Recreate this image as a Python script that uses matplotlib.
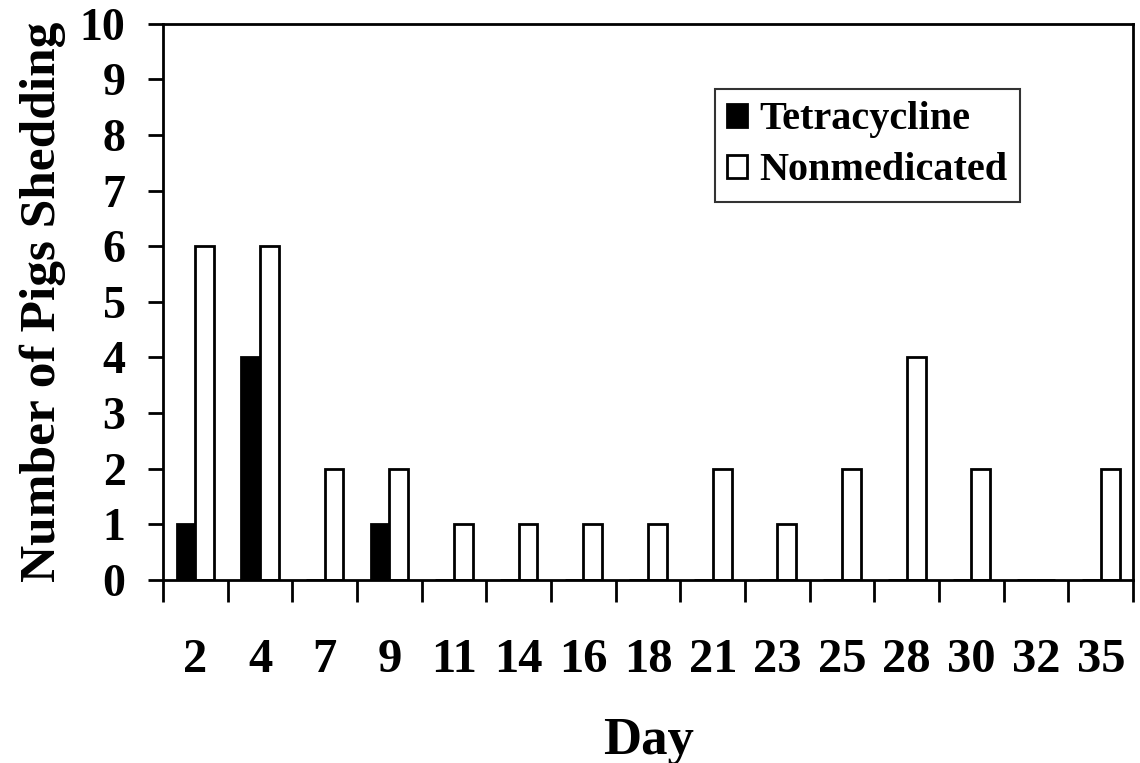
import matplotlib
matplotlib.use("Agg")
import matplotlib.pyplot as plt
import numpy as np

# days sampled and number of pigs shedding per group
days = ['2', '4', '7', '9', '11', '14', '16', '18', '21', '23', '25', '28', '30', '32', '35']
tetracycline = [1, 4, 0, 1, 0, 0, 0, 0, 0, 0, 0, 0, 0, 0, 0]
nonmedicated = [6, 6, 2, 2, 1, 1, 1, 1, 2, 1, 2, 4, 2, 0, 2]

plt.rcParams['font.family'] = ['Liberation Serif', 'DejaVu Serif']
plt.rcParams['font.weight'] = 'bold'

fig = plt.figure(figsize=(11.4, 7.63), dpi=100)
ax = fig.add_axes([0.143, 0.240, 0.851, 0.729])

x = np.arange(len(days))
w = 0.29
ax.bar(x - w/2, tetracycline, width=w, color='black', edgecolor='black', linewidth=2, label='Tetracycline')
ax.bar(x + w/2, nonmedicated, width=w, color='white', edgecolor='black', linewidth=2, label='Nonmedicated')

ax.set_xlim(-0.5, len(days) - 0.5)
ax.set_ylim(0, 10)
ax.set_yticks(range(0, 11))
ax.tick_params(axis='y', which='major', length=11, width=2, direction='out', labelsize=33, pad=16)

# boundary ticks without labels, labels at bar-group centres
ax.set_xticks(np.arange(len(days) + 1) - 0.5)
ax.set_xticklabels([])
ax.tick_params(axis='x', which='major', length=16, width=2, direction='out')
ax.set_xticks(x, minor=True)
ax.set_xticklabels(days, minor=True)
ax.tick_params(axis='x', which='minor', length=0, labelsize=35, pad=42)

for s in ax.spines.values():
    s.set_linewidth(2)

ax.set_ylabel('Number of Pigs Shedding', fontsize=37, fontweight='bold', labelpad=10)
ax.set_xlabel('Day', fontsize=38, fontweight='bold', labelpad=25)

leg = ax.legend(loc='upper left', bbox_to_anchor=(0.569, 0.882), fontsize=29, frameon=True,
                fancybox=False, edgecolor='black', handlelength=0.5, handleheight=0.5,
                handletextpad=0.3, borderpad=0.3, labelspacing=0.35, borderaxespad=0)
leg.get_frame().set_linewidth(1.5)
for t in leg.get_texts():
    t.set_fontweight('bold')

fig.savefig('out.png', dpi=100)
